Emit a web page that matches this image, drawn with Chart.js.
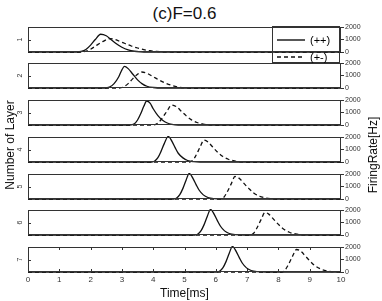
<!DOCTYPE html>
<html>
<head>
<meta charset="utf-8">
<script src="https://cdn.jsdelivr.net/npm/chart.js@4.4.1/dist/chart.umd.min.js"></script>
<style>
    html, body { margin: 0; padding: 0; background: #fff; }
    #app { position: relative; width: 382px; height: 301px; overflow: hidden; font-family: 'Liberation Sans', Arial, sans-serif; color: #111; }
    #app canvas { position: absolute; left: 0; }
    .title { position: absolute; left: 28px; width: 313px; top: 4px; line-height: 20px; text-align: center; font-size: 17px; }
    .xlabel { position: absolute; left: 28px; width: 313px; top: 286px; line-height: 14px; text-align: center; font-size: 12px; }
    .ylabel { position: absolute; width: 160px; height: 14px; line-height: 14px; text-align: center; font-size: 12px; transform: rotate(-90deg); }
    .legend { position: absolute; left: 272px; top: 26px; width: 66px; height: 35px; border: 1px solid #333; }
    .legend svg { position: absolute; left: 0; top: 0; }
    .legend span { position: absolute; left: 37px; font-size: 11px; line-height: 12px; color: #000; }
</style>
</head>
<body>
<div id="app"></div>
<script>
// axis ticks and labels
const timeTicks = [0, 1, 2, 3, 4, 5, 6, 7, 8, 9, 10];
const rateTicks = [0, 1000, 2000];
const layerNames = ['1', '2', '3', '4', '5', '6', '7'];
const seriesNames = ['(++)', '(+-)'];

// (++) solid curves, [time ms, rate Hz]
const pp1 = [[0, 0], [1.55, 0], [1.7, 40], [1.85, 200], [2.0, 550], [2.15, 1000], [2.32, 1420], [2.5, 1300], [2.65, 1000], [2.8, 700], [3.0, 380], [3.2, 170], [3.4, 60], [3.6, 15], [3.8, 0], [10, 0]];
const pp2 = [[0, 0], [2.45, 0], [2.6, 70], [2.75, 350], [2.9, 900], [3.0, 1450], [3.08, 1730], [3.2, 1550], [3.35, 1100], [3.5, 650], [3.65, 330], [3.8, 140], [4.0, 40], [4.3, 0], [10, 0]];
const pp3 = [[0, 0], [3.25, 0], [3.4, 100], [3.5, 400], [3.6, 900], [3.7, 1500], [3.79, 1920], [3.9, 1750], [4.0, 1300], [4.15, 750], [4.3, 380], [4.45, 160], [4.6, 50], [4.8, 0], [10, 0]];
const pp4 = [[0, 0], [3.95, 0], [4.05, 80], [4.15, 350], [4.25, 850], [4.35, 1450], [4.48, 2050], [4.6, 1650], [4.7, 1150], [4.8, 700], [4.95, 330], [5.1, 120], [5.3, 25], [5.5, 0], [10, 0]];
const pp5 = [[0, 0], [4.65, 0], [4.75, 80], [4.85, 350], [4.95, 850], [5.05, 1500], [5.15, 2050], [5.27, 1650], [5.37, 1150], [5.47, 700], [5.6, 330], [5.75, 120], [5.95, 25], [6.2, 0], [10, 0]];
const pp6 = [[0, 0], [5.33, 0], [5.43, 80], [5.53, 350], [5.63, 850], [5.73, 1500], [5.83, 2050], [5.95, 1650], [6.05, 1150], [6.15, 700], [6.28, 330], [6.43, 120], [6.63, 25], [6.9, 0], [10, 0]];
const pp7 = [[0, 0], [6.03, 0], [6.13, 80], [6.23, 350], [6.33, 850], [6.43, 1500], [6.53, 2050], [6.65, 1650], [6.75, 1150], [6.85, 700], [6.98, 330], [7.13, 120], [7.33, 25], [7.6, 0], [10, 0]];

// (+-) dashed curves
const pm1 = [[0, 0], [1.7, 0], [1.85, 60], [2.0, 220], [2.2, 550], [2.4, 850], [2.62, 1070], [2.75, 1020], [2.9, 880], [3.1, 680], [3.3, 480], [3.5, 320], [3.7, 190], [3.9, 100], [4.1, 45], [4.4, 10], [4.8, 0], [10, 0]];
const pm2 = [[0, 0], [2.9, 0], [3.05, 80], [3.2, 350], [3.35, 750], [3.5, 1100], [3.63, 1280], [3.8, 1180], [4.0, 900], [4.2, 620], [4.4, 380], [4.6, 200], [4.8, 80], [5.0, 20], [5.3, 0], [10, 0]];
const pm3 = [[0, 0], [4.0, 0], [4.15, 150], [4.3, 600], [4.45, 1150], [4.59, 1600], [4.75, 1450], [4.9, 1100], [5.05, 750], [5.2, 450], [5.4, 200], [5.6, 70], [5.8, 15], [6.0, 0], [10, 0]];
const pm4 = [[0, 0], [5.15, 0], [5.25, 100], [5.35, 450], [5.5, 1200], [5.62, 1750], [5.75, 1600], [5.9, 1200], [6.05, 800], [6.2, 480], [6.4, 220], [6.6, 80], [6.8, 20], [7.0, 0], [10, 0]];
const pm5 = [[0, 0], [6.15, 0], [6.25, 120], [6.35, 500], [6.5, 1250], [6.61, 1800], [6.75, 1650], [6.9, 1250], [7.05, 850], [7.2, 500], [7.4, 220], [7.6, 80], [7.8, 20], [8.0, 0], [10, 0]];
const pm6 = [[0, 0], [7.1, 0], [7.2, 120], [7.3, 500], [7.45, 1250], [7.57, 1800], [7.7, 1650], [7.85, 1250], [8.0, 850], [8.15, 500], [8.35, 220], [8.55, 80], [8.75, 20], [9.0, 0], [10, 0]];
const pm7 = [[0, 0], [8.1, 0], [8.2, 120], [8.3, 500], [8.45, 1250], [8.58, 1800], [8.72, 1650], [8.87, 1250], [9.02, 850], [9.17, 500], [9.37, 220], [9.57, 80], [9.77, 20], [10, 0]];

const ppSeries = [pp1, pp2, pp3, pp4, pp5, pp6, pp7];
const pmSeries = [pm1, pm2, pm3, pm4, pm5, pm6, pm7];

// box around each panel plus the small inward ticks
const framePlugin = {
    id: 'frame',
    afterDatasetsDraw(chart, args, opts) {
        const { ctx, chartArea: a, scales } = chart;
        ctx.save();
        ctx.strokeStyle = '#333';
        ctx.lineWidth = 1;
        ctx.strokeRect(a.left + 0.5, a.top + 0.5, a.width - 1, a.height - 1);
        ctx.beginPath();
        const yMid = Math.round(scales.yL.getPixelForValue(1)) + 0.5;
        ctx.moveTo(a.left, yMid);
        ctx.lineTo(a.left + 3, yMid);
        if (opts.xTicks) {
            timeTicks.slice(1, -1).forEach(v => {
                const px = Math.round(scales.x.getPixelForValue(v)) + 0.5;
                ctx.moveTo(px, a.top);
                ctx.lineTo(px, a.top + 3);
                ctx.moveTo(px, a.bottom);
                ctx.lineTo(px, a.bottom - 3);
            });
        }
        ctx.stroke();
        ctx.restore();
    }
};

const ChartPage = {
    panelTops: [27, 63, 100, 137, 174, 210, 247],

    init() {
        this.render();
        layerNames.forEach((name, i) => this.makePanel(i));
    },

    makePanel(i) {
        const last = i === layerNames.length - 1;
        const canvas = document.getElementById('layer' + i);
        const line = { borderColor: '#111', borderWidth: 1.3, pointRadius: 0, cubicInterpolationMode: 'monotone', clip: 1, yAxisID: 'y' };

        new Chart(canvas, {
            type: 'line',
            data: {
                datasets: [
                    { ...line, label: seriesNames[0], data: ppSeries[i] },
                    { ...line, label: seriesNames[1], data: pmSeries[i], borderDash: [4, 3] }
                ]
            },
            options: {
                responsive: false,
                animation: false,
                devicePixelRatio: 1,
                layout: { padding: { top: 8, bottom: last ? 0 : 8, left: 0, right: 0 } },
                plugins: {
                    legend: { display: false },
                    tooltip: { enabled: false },
                    frame: { xTicks: last }
                },
                scales: {
                    x: {
                        type: 'linear',
                        min: 0,
                        max: 10,
                        display: last,
                        afterBuildTicks: s => { s.ticks = timeTicks.map(v => ({ value: v })); },
                        afterFit: s => { s.height = last ? 14 : 0; },
                        ticks: { font: { size: 8, family: 'Liberation Sans' }, color: '#333', padding: 3, maxRotation: 0, autoSkip: false, callback: v => String(v) },
                        grid: { display: false, drawTicks: false },
                        border: { display: false }
                    },
                    y: {
                        position: 'right',
                        min: 0,
                        max: 2000,
                        afterBuildTicks: s => { s.ticks = rateTicks.map(v => ({ value: v })); },
                        afterFit: s => { s.width = 41; },
                        ticks: { font: { size: 7, family: 'Liberation Sans' }, color: '#333', padding: 1, callback: v => String(v) },
                        grid: { drawOnChartArea: false, tickLength: 3, color: '#333' },
                        border: { display: false }
                    },
                    yL: {
                        position: 'left',
                        min: 0,
                        max: 2,
                        afterFit: s => { s.width = 28; },
                        ticks: { display: false },
                        grid: { display: false, drawTicks: false },
                        border: { display: false },
                        title: { display: true, text: layerNames[i], font: { size: 7, family: 'Liberation Sans' }, color: '#333', padding: { top: 16, bottom: 0 } }
                    }
                }
            },
            plugins: [framePlugin]
        });
    },

    render() {
        const app = document.getElementById('app');
        const canvases = this.panelTops.map((top, i) => {
            const h = i === this.panelTops.length - 1 ? 47 : 41;
            return `<canvas id="layer${i}" width="382" height="${h}" style="top:${top - 8}px"></canvas>`;
        }).join('');

        app.innerHTML = `
            <div class="title">(c)F=0.6</div>
            ${canvases}
            <div class="legend">
                <svg width="66" height="35">
                    <line x1="4" y1="13" x2="32" y2="13" stroke="#111" stroke-width="1.4"></line>
                    <line x1="4" y1="30" x2="32" y2="30" stroke="#111" stroke-width="1.4" stroke-dasharray="4 3"></line>
                </svg>
                <span style="top:7px">${seriesNames[0]}</span>
                <span style="top:24px">${seriesNames[1]}</span>
            </div>
            <div class="ylabel" style="left:-70px; top:138px;">Number of Layer</div>
            <div class="ylabel" style="left:293px; top:148px;">FiringRate[Hz]</div>
            <div class="xlabel">Time[ms]</div>
        `;
    }
};

ChartPage.init();
</script>
</body>
</html>
